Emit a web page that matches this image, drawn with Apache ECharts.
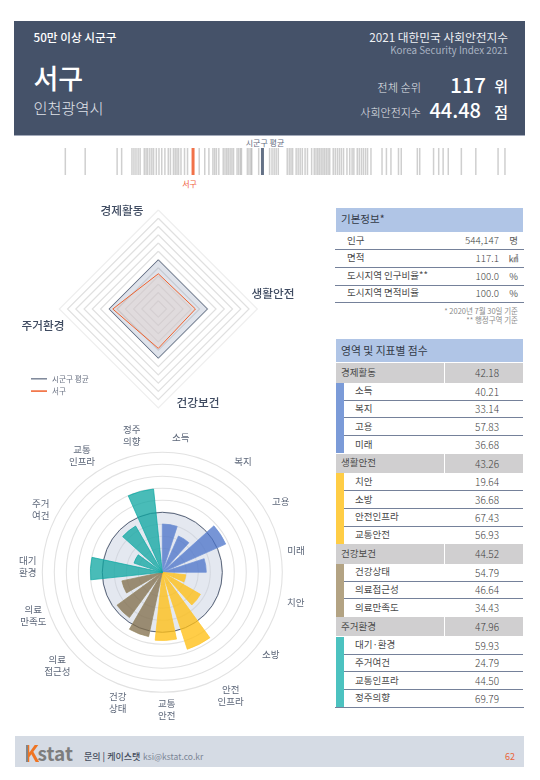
<!DOCTYPE html>
<html>
<head>
<meta charset="utf-8">
<script src="https://cdn.jsdelivr.net/npm/echarts@6/dist/echarts.min.js"></script>
<style>
html, body { margin: 0; padding: 0; background: #fff; }
body { width: 540px; height: 780px; position: relative; overflow: hidden; font-family: "Noto Sans CJK KR", "Noto Sans", sans-serif; }
#page { position: absolute; left: 0; top: 0; width: 540px; height: 780px; }
#chart { position: absolute; left: 0; top: 0; width: 540px; height: 780px; }
.box { position: absolute; }
.txt { position: absolute; white-space: nowrap; line-height: 1; }
</style>
</head>
<body>
<div id="page"></div>
<div id="chart"></div>
<script>
var sigunguScores = [34.32, 35.90, 38.44, 38.80, 39.62, 39.78, 39.94, 40.11, 40.27, 40.60, 40.74, 40.87, 41.04, 41.20,
    41.34, 41.56, 41.77, 41.99, 42.24, 42.51, 42.68, 42.92, 43.06, 43.20, 43.33, 43.52, 43.80, 44.04,
    44.97, 45.41, 45.74, 46.06, 46.20, 46.34, 46.53, 46.88, 47.02, 47.16, 47.29, 47.43, 47.57, 47.70,
    47.98, 48.11, 48.25, 48.33, 48.80, 48.93, 49.07, 49.15, 49.70, 50.57, 50.76, 50.93, 51.09, 51.26,
    51.97, 52.13, 52.27, 52.40, 52.68, 52.84, 53.00, 53.17, 53.39, 53.58, 53.91, 54.12, 54.26, 54.40,
    54.53, 54.67, 54.81, 54.94, 55.08, 55.22, 55.35, 55.63, 55.79, 55.96, 56.12, 56.28, 56.45, 56.72,
    56.94, 57.13, 57.27, 57.54, 57.70, 57.87, 58.03, 58.20, 58.36, 58.63, 59.51, 59.86, 60.22, 60.82,
    61.04, 62.32, 62.51, 63.61, 64.02, 64.37, 64.78, 65.82, 66.97, 68.74, 69.29];
var regionName = '서구';
var regionScore = 44.48;
var avgName = '시군구 평균';
var avgScore = 50;

var domainNames = ['경제활동', '생활안전', '건강보건', '주거환경'];
var domainScores = [42.18, 43.26, 44.52, 47.96];
var avgDomainScores = [50, 50, 50, 50];
var domainColors = ['#7b9bd8', '#ffcd45', '#b3a383', '#4cc2c0'];
var barColors = ['rgba(74,113,200,0.75)', 'rgba(255,191,20,0.78)', 'rgba(128,108,72,0.75)', 'rgba(12,165,160,0.75)'];
var barBorders = ['#6f90d6', '#ffc52b', '#94855f', '#0aa8a2'];

var indicatorNames = [
    ['소득', '복지', '고용', '미래'],
    ['치안', '소방', '안전인프라', '교통안전'],
    ['건강상태', '의료접근성', '의료만족도'],
    ['대기·환경', '주거여건', '교통인프라', '정주의향']
];
var indicatorScores = [
    [40.21, 33.14, 57.83, 36.68],
    [19.64, 36.68, 67.43, 56.93],
    [54.79, 46.64, 34.43],
    [59.93, 24.79, 44.50, 69.79]
];
var roseLabels = ['소득', '복지', '고용', '미래', '치안', '소방', '안전\n인프라', '교통\n안전',
    '건강\n상태', '의료\n접근성', '의료\n만족도', '대기\n환경', '주거\n여건', '교통\n인프라', '정주\n의향'];

var infoNames = ['인구', '면적', '도시지역 인구비율**', '도시지역 면적비율'];
var infoValues = ['544,147', '117.1', '100.0', '100.0'];
var infoUnits = ['명', '㎢', '%', '%'];

var page = document.getElementById('page');

function addBox(x, y, w, h, color) {
    var el = document.createElement('div');
    el.className = 'box';
    el.style.cssText = 'left:' + x + 'px;top:' + y + 'px;width:' + w + 'px;height:' + h + 'px;background:' + color;
    page.appendChild(el);
}

// y is the middle of the text, x its left edge or (align right) its right edge
function addText(text, x, y, size, color, align, weight) {
    var el = document.createElement('div');
    el.className = 'txt';
    el.textContent = text;
    el.style.fontSize = size + 'px';
    el.style.color = color;
    el.style.top = (y - size / 2) + 'px';
    if (weight) {
        el.style.fontWeight = weight;
    }
    if (align === 'right') {
        el.style.right = (540 - x) + 'px';
    } else if (align === 'center') {
        el.style.left = x + 'px';
        el.style.transform = 'translateX(-50%)';
    } else {
        el.style.left = x + 'px';
    }
    page.appendChild(el);
    return el;
}

// header
addBox(14, 21, 510.5, 114, '#455269');
addBox(14, 135, 510.5, 1, '#a3aaba');
addText('50만 이상 시군구', 33.5, 36.5, 11.7, '#ffffff', 'left', 500);
addText('2021 대한민국 사회안전지수', 508, 36.5, 11.7, '#eef0f4', 'right');
addText('Korea Security Index 2021', 508, 50.5, 9.8, '#a9b2c2', 'right');
addText(regionName, 33.5, 77, 27, '#ffffff', 'left', 500);
addText('인천광역시', 33.5, 108, 15.2, '#e0e3e9', 'left', 300);
addText('전체 순위', 421, 87.5, 11.2, '#e6e8ed', 'right', 300);
addText('117', 486, 84, 21, '#ffffff', 'right', 500);
addText('위', 508, 85, 15, '#ffffff', 'right', 500);
addText('사회안전지수', 421, 112.5, 11, '#e6e8ed', 'right', 300);
addText(regionScore.toFixed(2), 481, 110, 20, '#ffffff', 'right', 500);
addText('점', 508, 111, 15, '#ffffff', 'right', 500);
addText(avgName, 265, 142.5, 8, '#5f6b80', 'center');
addText(regionName, 189.5, 184, 8, '#f0603a', 'center');

// basic info table
addBox(336, 208, 187, 23.5, '#b0c5e6');
addText('기본정보*', 341, 219.5, 10.5, '#333a47', 'left');
var infoLines = [249, 267, 284.5, 302];
var infoMids = [240.5, 258, 276, 293];
for (var i = 0; i < infoNames.length; i++) {
    addText(infoNames[i], 347, infoMids[i], 9.5, '#4a4a4a', 'left');
    addText(infoValues[i], 499, infoMids[i] + 0.5, 9.8, '#3e3e3e', 'right', 300);
    addText(infoUnits[i], 513.5, infoMids[i] + 0.5, 9.5, '#5a5a5a', 'center');
    addBox(334.5, infoLines[i], 189.5, 1, '#75819a');
}
addText('* 2020년 7월 30일 기준', 518, 310.5, 7.5, '#8b8b8b', 'right');
addText('** 행정구역 기준', 518, 320, 7.5, '#8b8b8b', 'right');

// score table
addBox(336, 339, 187, 23, '#b0c5e6');
addText('영역 및 지표별 점수', 341, 350.5, 10.8, '#333a47', 'left');
var y = 363;
for (var d = 0; d < domainNames.length; d++) {
    addBox(336, y, 107.5, 19.7, '#d0cfd0');
    addBox(444.5, y, 78.5, 19.7, '#d0cfd0');
    addText(domainNames[d], 341, y + 9.5, 9.5, '#4a4a4a', 'left');
    addText(domainScores[d].toFixed(2), 499, y + 10, 10, '#3e3e3e', 'right', 300);
    y += 19.7;
    addBox(336, y, 7.5, indicatorNames[d].length * 17.7, domainColors[d]);
    for (var k = 0; k < indicatorNames[d].length; k++) {
        addText(indicatorNames[d][k], 355, y + 8.5, 9.5, '#4a4a4a', 'left');
        addText(indicatorScores[d][k].toFixed(2), 499, y + 9, 10, '#3e3e3e', 'right', 300);
        if (k < indicatorNames[d].length - 1) {
            addBox(343.5, y + 17, 179.5, 1, '#75819a');
        }
        y += 17.7;
    }
}
addBox(334.5, y, 189, 1, '#75819a');

// footer
addBox(15, 736, 508.5, 31, '#d5dbe4');
var logoK = addText('K', 24, 752, 22, '#ef7422', 'left', 700);
logoK.style.background = 'linear-gradient(90deg, #858585 30%, #ef7422 30%)';
logoK.style.webkitBackgroundClip = 'text';
logoK.style.color = 'transparent';
addText('stat', 37.5, 752, 19, '#7d7d7d', 'left', 700);
addText('문의 | 케이스탯', 84, 756.5, 9, '#444c5c', 'left', 500);
addText('ksi@kstat.co.kr', 143, 756.5, 8.5, '#7a8494', 'left');
addText('62', 515, 756.5, 9, '#e9663a', 'right');

// rose values follow the table order
var roseData = [];
for (var d2 = 0; d2 < indicatorScores.length; d2++) {
    for (var k2 = 0; k2 < indicatorScores[d2].length; k2++) {
        roseData.push({
            value: indicatorScores[d2][k2],
            itemStyle: {color: barColors[d2], borderColor: barBorders[d2], borderWidth: 0.7}
        });
    }
}

var radarLabelXY = [[122, 211], [273, 294], [198, 402.5], [43, 326]];
var roseLabelXY = [[180.7, 437.7], [243, 461.7], [280.7, 501], [296, 550], [295.7, 602], [270.7, 654], [230.7, 695], [166.7, 709],
    [117.7, 702], [57.3, 665], [33.3, 615], [27.7, 566.7], [40.7, 509], [82, 455], [131.7, 435.7]];
var labels = [];
for (var n = 0; n < domainNames.length; n++) {
    labels.push({
        type: 'text',
        x: radarLabelXY[n][0],
        y: radarLabelXY[n][1],
        style: {
            text: domainNames[n],
            fill: '#3f4b61',
            font: '500 11.7px "Noto Sans CJK KR"',
            align: 'center',
            verticalAlign: 'middle'
        }
    });
}
for (var m = 0; m < roseLabels.length; m++) {
    labels.push({
        type: 'text',
        x: roseLabelXY[m][0],
        y: roseLabelXY[m][1],
        style: {
            text: roseLabels[m],
            fill: '#5d6779',
            font: '9.5px "Noto Sans CJK KR"',
            lineHeight: 12,
            align: 'center',
            verticalAlign: 'middle'
        }
    });
}

// radar runs counter-clockwise, table order is clockwise
function radarOrder(arr) {
    return [arr[0], arr[3], arr[2], arr[1]];
}

var chart = echarts.init(document.getElementById('chart'));
chart.setOption({
    animation: false,
    textStyle: {fontFamily: '"Noto Sans CJK KR", "Noto Sans", sans-serif'},
    grid: {left: 61.3, width: 452.6, top: 148, height: 27},
    xAxis: {type: 'value', min: 34, max: 70, show: false},
    yAxis: {type: 'category', data: [''], show: false},
    legend: {
        left: 31,
        top: 375,
        padding: 0,
        orient: 'vertical',
        itemWidth: 16,
        itemHeight: 1.5,
        itemGap: 4.7,
        icon: 'rect',
        data: [
            {name: avgName, itemStyle: {color: '#7c8698'}},
            {name: regionName}
        ],
        textStyle: {fontSize: 7.6, color: '#6b7384'}
    },
    radar: {
        center: [158.3, 309],
        radius: 99,
        startAngle: 90,
        splitNumber: 12,
        shape: 'polygon',
        indicator: radarOrder(domainNames).map(function(name) {
            return {name: name, min: 22.4, max: 78};
        }),
        axisName: {show: false},
        axisLine: {show: false},
        axisTick: {show: false},
        splitArea: {show: false},
        splitLine: {lineStyle: {
            color: ['#eeeeee', '#eeeeee', '#eeeeee', '#eeeeee', '#eeeeee', '#e0e0e0', '#e0e0e0', '#e0e0e0', '#e0e0e0', '#e0e0e0', '#e0e0e0', '#e0e0e0'],
            width: 1.2
        }}
    },
    polar: [
        {center: [162.3, 572.3], radius: 120},
        {center: [162.3, 572.3], radius: 120}
    ],
    angleAxis: [
        {
            polarIndex: 0,
            type: 'category',
            data: [avgName],
            show: false
        },
        {
            polarIndex: 1,
            type: 'category',
            data: roseLabels,
            startAngle: 93,
            axisLine: {show: false},
            axisTick: {show: false},
            splitLine: {show: false},
            axisLabel: {show: false}
        }
    ],
    radiusAxis: [
        {polarIndex: 0, min: 0, max: 100, show: false},
        {
            polarIndex: 1,
            min: 0,
            max: 100,
            interval: 10,
            axisLine: {show: false},
            axisTick: {show: false},
            axisLabel: {show: false},
            splitLine: {lineStyle: {color: '#e2e2e2', width: 1.1}}
        }
    ],
    series: [
        {
            type: 'scatter',
            xAxisIndex: 0,
            yAxisIndex: 0,
            symbol: 'rect',
            symbolSize: [1.5, 27],
            silent: true,
            itemStyle: {color: 'rgba(135,135,135,0.5)'},
            data: sigunguScores.map(function(v) { return [v, 0]; })
        },
        {
            type: 'scatter',
            symbol: 'rect',
            symbolSize: [3, 27],
            z: 3,
            itemStyle: {color: '#ee4f1c'},
            data: [[regionScore, 0]]
        },
        {
            type: 'scatter',
            symbol: 'rect',
            symbolSize: [3, 27],
            z: 3,
            itemStyle: {color: '#3d4d68'},
            data: [[avgScore, 0]]
        },
        {
            type: 'radar',
            symbol: 'none',
            data: [
                {
                    name: avgName,
                    value: radarOrder(avgDomainScores),
                    itemStyle: {color: '#5d6a80'},
                    lineStyle: {color: '#5d6a80', width: 1},
                    areaStyle: {color: 'rgba(120,138,170,0.34)'}
                },
                {
                    name: regionName,
                    value: radarOrder(domainScores),
                    itemStyle: {color: '#f0602c'},
                    lineStyle: {color: '#f0602c', width: 1},
                    areaStyle: {color: 'rgba(240,150,100,0.15)'}
                }
            ]
        },
        {
            type: 'bar',
            coordinateSystem: 'polar',
            polarIndex: 0,
            barWidth: '100%',
            silent: true,
            z: 1,
            itemStyle: {color: 'rgba(196,204,222,0.45)', borderColor: '#5a667c', borderWidth: 1},
            data: [avgScore]
        },
        {
            type: 'bar',
            coordinateSystem: 'polar',
            polarIndex: 1,
            barWidth: '75%',
            z: 2,
            data: roseData
        }
    ],
    graphic: labels
});
</script>
</body>
</html>
